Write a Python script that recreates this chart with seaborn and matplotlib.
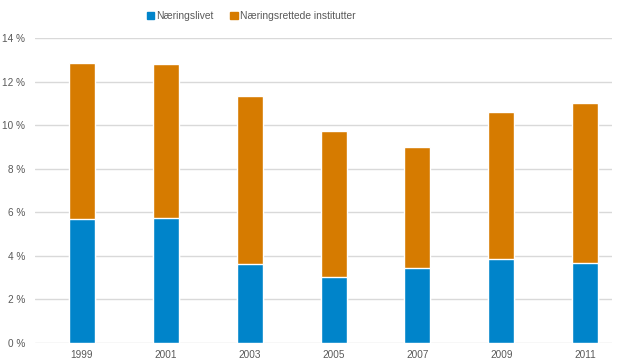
import pandas as pd
import matplotlib.pyplot as plt
import matplotlib.patches as mpatches
from matplotlib.ticker import FuncFormatter
import seaborn as sns

# Data (percent)
years = ["1999", "2001", "2003", "2005", "2007", "2009", "2011"]
naeringslivet = [5.69, 5.76, 3.62, 3.03, 3.46, 3.85, 3.67]
institutter = [7.15, 7.06, 7.71, 6.69, 5.53, 6.75, 7.33]

df = pd.DataFrame({"År": years, "Næringslivet": naeringslivet,
                   "Næringsrettede institutter": institutter})
df["Total"] = df["Næringslivet"] + df["Næringsrettede institutter"]

sns.set_style("white")
plt.rcParams["font.family"] = ["Liberation Sans", "DejaVu Sans"]

blue = "#0084CA"
orange = "#D67B00"
grey_text = "#595959"

fig = plt.figure(figsize=(6.17, 3.58), dpi=100)
ax = fig.add_axes([35 / 617, 15 / 358, 577 / 617, 305 / 358])

# stacked bars: total first, then the lower part on top
sns.barplot(data=df, x="År", y="Total", color=orange, width=0.31,
            saturation=1, ax=ax, zorder=3)
sns.barplot(data=df, x="År", y="Næringslivet", color=blue, width=0.31,
            saturation=1, ax=ax, zorder=3)

ax.set_ylim(0, 14)
ax.set_yticks(range(0, 15, 2))
ax.yaxis.set_major_formatter(FuncFormatter(lambda v, p: f"{int(v)} %"))
ax.set_xlim(-0.56, 6.5 - 15 / 83.8)
ax.grid(axis="y", color="#d9d9d9", linewidth=1, zorder=0)
ax.set_axisbelow(True)
for s in ax.spines.values():
    s.set_visible(False)
ax.set_xlabel("")
ax.set_ylabel("")
ax.tick_params(axis="both", length=0, labelsize=7.2, labelcolor=grey_text)
ax.tick_params(axis="y", pad=7)
ax.tick_params(axis="x", pad=5)

handles = [mpatches.Patch(color=blue, label="Næringslivet"),
           mpatches.Patch(color=orange, label="Næringsrettede institutter")]
leg = fig.legend(handles=handles, loc="center", bbox_to_anchor=(251 / 617, 1 - 16 / 358),
                 ncol=2, frameon=False, fontsize=7.4, handlelength=0.75, handleheight=0.75,
                 handletextpad=0.2, columnspacing=1.6)
for t in leg.get_texts():
    t.set_color(grey_text)

fig.savefig("out.png", dpi=100)
